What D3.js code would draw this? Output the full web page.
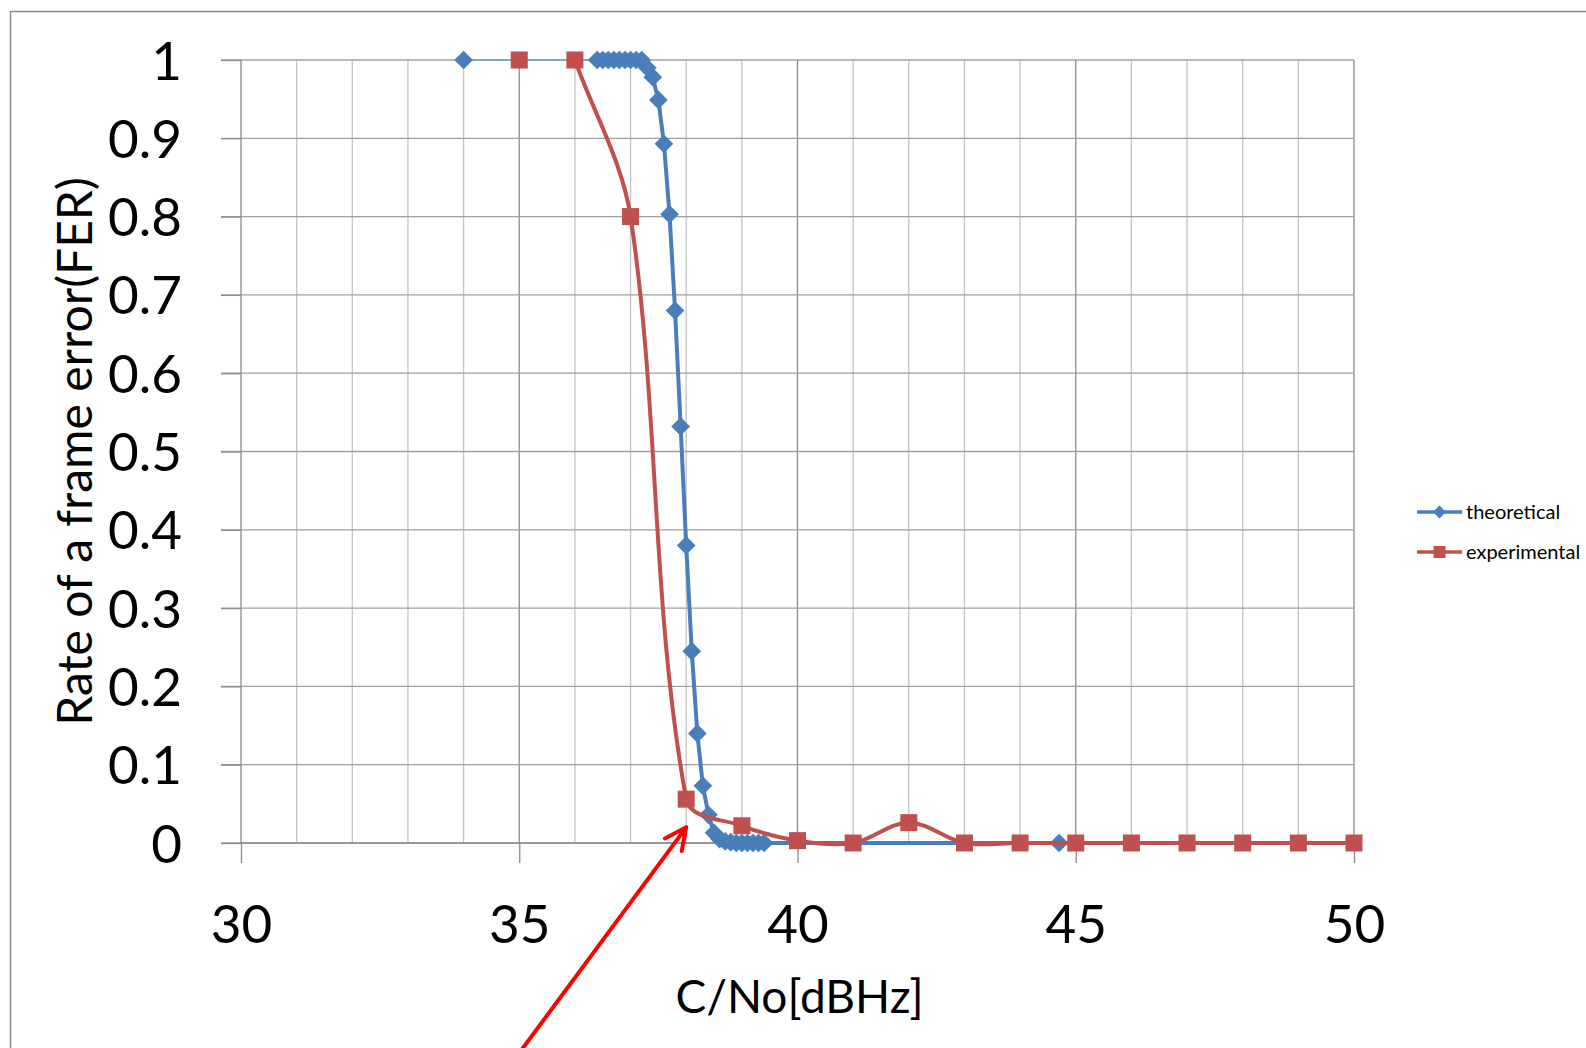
<!DOCTYPE html>
<html>
<head>
<meta charset="utf-8">
<script src="https://cdn.jsdelivr.net/npm/d3@7"></script>
<style>
  body { margin: 0; background: #fff; }
  svg { display: block; }
  text { font-family: Lato, "Open Sans", sans-serif; fill: #000; }
</style>
</head>
<body>
<div id="chart"></div>
<script>
// theoretical curve (blue diamonds)
var theoX = [34, 36.4, 36.5, 36.6, 36.7, 36.8, 36.9, 37.0, 37.1, 37.2, 37.3, 37.4, 37.5, 37.6, 37.7,
             37.8, 37.9, 38.0, 38.1, 38.2, 38.3, 38.4, 38.5, 38.6, 38.7, 38.8, 38.9, 39.0, 39.1,
             39.2, 39.3, 39.4, 44.7];
var theoY = [1, 1, 1, 1, 1, 1, 1, 1, 1, 1, 0.99, 0.978, 0.949, 0.893, 0.803,
             0.68, 0.532, 0.38, 0.245, 0.14, 0.073, 0.036, 0.013, 0.005, 0.002, 0.001, 0, 0, 0,
             0, 0, 0, 0];

// experimental curve (red squares)
var expX = [35, 36, 37, 38, 39, 40, 41, 42, 43, 44, 45, 46, 47, 48, 49, 50];
var expY = [1, 1, 0.8, 0.056, 0.022, 0.003, 0, 0.026, 0, 0, 0, 0, 0, 0, 0, 0];

var xTicks = [30, 35, 40, 45, 50];
var yTicks = [0, 0.1, 0.2, 0.3, 0.4, 0.5, 0.6, 0.7, 0.8, 0.9, 1];
var seriesNames = ["theoretical", "experimental"];

// annotation arrow: from (x, bottom of page) to (x, y) in data units
var arrowFromX = 35.0;
var arrowTo = [38, 0.02];

var width = 1586, height = 1048;
var margin = {top: 60, left: 241};
var plotW = 1354 - 241, plotH = 843 - 60;

var blue = "#4a7ebb", red = "#c0504d";

var svg = d3.select("#chart").append("svg")
    .attr("width", width)
    .attr("height", height);

// outer chart border
svg.append("rect")
    .attr("x", 10.5).attr("y", 11.5)
    .attr("width", width + 20).attr("height", height + 20)
    .attr("fill", "none")
    .attr("stroke", "#8c8c8c")
    .attr("stroke-width", 1.5);

var g = svg.append("g")
    .attr("transform", "translate(" + margin.left + "," + margin.top + ")");

var x = d3.scaleLinear().domain([30, 50]).range([0, plotW]);
var y = d3.scaleLinear().domain([0, 1]).range([plotH, 0]);

// vertical grid every 1 unit, darker at major ticks
g.append("g").selectAll("line")
    .data(d3.range(31, 51))
    .enter().append("line")
    .attr("x1", function(d) { return x(d); })
    .attr("x2", function(d) { return x(d); })
    .attr("y1", 0).attr("y2", plotH)
    .attr("stroke", function(d) { return d % 5 === 0 ? "#8c8c8c" : "#c4c4c4"; })
    .attr("stroke-width", 1.3);

// horizontal grid + y ticks sticking out left
g.append("g").selectAll("line")
    .data(yTicks)
    .enter().append("line")
    .attr("x1", -20).attr("x2", plotW)
    .attr("y1", function(d) { return y(d); })
    .attr("y2", function(d) { return y(d); })
    .attr("stroke", "#a0a0a0")
    .attr("stroke-width", 1.3);

// axes
var xAxis = g.append("g")
    .attr("transform", "translate(0," + plotH + ")")
    .call(d3.axisBottom(x).tickValues(xTicks).tickSize(20).tickPadding(42).tickFormat(d3.format("d")));
var yAxis = g.append("g")
    .call(d3.axisLeft(y).tickValues(yTicks).tickSize(20).tickPadding(39)
        .tickFormat(function(d) { return d === 0 || d === 1 ? d : d3.format(".1f")(d); }));

[xAxis, yAxis].forEach(function(a) {
    a.select(".domain").attr("stroke", "#8c8c8c").attr("stroke-width", 1.3);
    a.selectAll(".tick line").attr("stroke", "#8c8c8c").attr("stroke-width", 1.3);
    a.selectAll(".tick text")
        .style("font-family", "Lato, sans-serif")
        .style("font-size", "53px")
        .attr("fill", "#000");
});
yAxis.select(".domain").attr("d", "M0," + plotH + "V0");
xAxis.select(".domain").attr("d", "M0,0H" + plotW);
yAxis.selectAll(".tick text").attr("dy", "0.36em");

// axis titles
g.append("text")
    .attr("x", plotW / 2 + 2)
    .attr("y", 1013 - margin.top)
    .attr("text-anchor", "middle")
    .style("font-size", "46px")
    .text("C/No[dBHz]");

g.append("text")
    .attr("transform", "translate(" + (92 - margin.left) + "," + (plotH / 2) + ") rotate(-90)")
    .attr("text-anchor", "middle")
    .style("font-size", "48px")
    .text("Rate of a frame error(FER)");

var theo = theoX.map(function(d, i) { return [d, theoY[i]]; });
var exp = expX.map(function(d, i) { return [d, expY[i]]; });

var sq = d3.symbol().type(d3.symbolSquare);
var px = function(d) { return x(d[0]); }, py = function(d) { return y(d[1]); };

// spreadsheet-style smoothing: tangent along neighbour chord, length = 1/3 of the segment
function smoothPath(data) {
    var p = data.map(function(d) { return [px(d), py(d)]; });
    var n = p.length;
    function dir(i) {
        var a = p[Math.max(i - 1, 0)], b = p[Math.min(i + 1, n - 1)];
        var dx = b[0] - a[0], dy = b[1] - a[1], l = Math.hypot(dx, dy) || 1;
        return [dx / l, dy / l];
    }
    var s = "M" + p[0][0] + "," + p[0][1];
    for (var i = 0; i < n - 1; i++) {
        var a = p[i], b = p[i + 1];
        var len = Math.hypot(b[0] - a[0], b[1] - a[1]) / 3;
        var da = dir(i), db = dir(i + 1);
        s += "C" + (a[0] + da[0] * len) + "," + (a[1] + da[1] * len) + " " +
             (b[0] - db[0] * len) + "," + (b[1] - db[1] * len) + " " + b[0] + "," + b[1];
    }
    return s;
}

// theoretical series: thin lead-in segment, then the main line
g.append("path")
    .datum(theo.slice(0, 2))
    .attr("fill", "none")
    .attr("stroke", "#7ea6d8")
    .attr("stroke-width", 2)
    .attr("d", d3.line().x(px).y(py));

g.append("path")
    .datum(theo.slice(1))
    .attr("fill", "none")
    .attr("stroke", blue)
    .attr("stroke-width", 4)
    .attr("stroke-linejoin", "round")
    .attr("d", d3.line().x(px).y(py));

g.append("g").selectAll("path")
    .data(theo)
    .enter().append("path")
    .attr("transform", function(d) { return "translate(" + px(d) + "," + py(d) + ") rotate(45)"; })
    .attr("d", sq.size(175)())
    .attr("fill", blue);

// experimental series (smoothed)
g.append("path")
    .datum(exp.slice(1))
    .attr("fill", "none")
    .attr("stroke", red)
    .attr("stroke-width", 4)
    .attr("d", smoothPath);

g.append("g").selectAll("path")
    .data(exp)
    .enter().append("path")
    .attr("transform", function(d) { return "translate(" + px(d) + "," + py(d) + ")"; })
    .attr("d", sq.size(289)())
    .attr("fill", red);

// legend
var legend = svg.append("g").attr("transform", "translate(1417,512)");
var legItems = legend.selectAll("g")
    .data(seriesNames)
    .enter().append("g")
    .attr("transform", function(d, i) { return "translate(0," + (i * 40) + ")"; });
legItems.append("line")
    .attr("x1", 0).attr("x2", 45)
    .attr("stroke", function(d, i) { return i ? red : blue; })
    .attr("stroke-width", 3.5);
legItems.append("path")
    .attr("transform", function(d, i) { return "translate(22.5,0)" + (i ? "" : " rotate(45)"); })
    .attr("d", function(d, i) { return i ? sq.size(144)() : sq.size(85)(); })
    .attr("fill", function(d, i) { return i ? red : blue; });
legItems.append("text")
    .attr("x", 49)
    .attr("dy", "0.35em")
    .style("font-size", "20px")
    .text(function(d) { return d; });

// red annotation arrow
var tipX = margin.left + x(arrowTo[0]), tipY = margin.top + y(arrowTo[1]);
var startX = margin.left + x(arrowFromX), startY = height + 5;
var ang = Math.atan2(startY - tipY, startX - tipX);
var wing = 24, spread = 0.45;
svg.append("path")
    .attr("d", "M" + startX + "," + startY + "L" + tipX + "," + tipY +
        "M" + (tipX + wing * Math.cos(ang - spread)) + "," + (tipY + wing * Math.sin(ang - spread)) +
        "L" + tipX + "," + tipY +
        "L" + (tipX + wing * Math.cos(ang + spread)) + "," + (tipY + wing * Math.sin(ang + spread)))
    .attr("fill", "none")
    .attr("stroke", "#ff0000")
    .attr("stroke-width", 4)
    .attr("stroke-linecap", "round")
    .attr("stroke-linejoin", "round");
</script>
</body>
</html>
